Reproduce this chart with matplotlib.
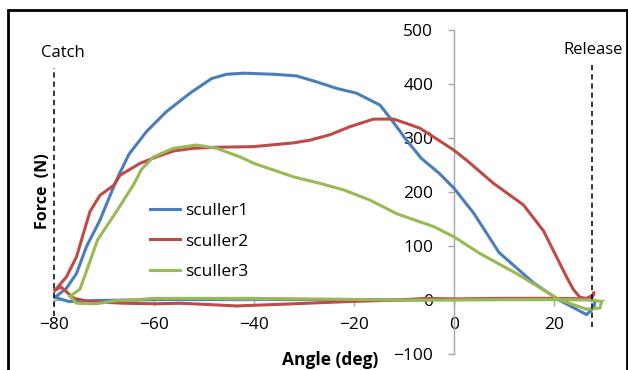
import matplotlib
matplotlib.use('Agg')
import matplotlib.pyplot as plt
from matplotlib.patches import Rectangle

plt.rcParams['font.family'] = ['Open Sans', 'DejaVu Sans']

# 数据：角度 (deg) 与 力 (N)，每条曲线为 划水 + 回桨 的闭合回路
s1_angle = [-79.8, -77.5, -75.5, -73.5, -70.8, -68.5, -67.0, -65.0, -61.5, -57.5, -52.8, -48.5, -45.5,
            -42.0, -36.0, -31.5, -27.5, -23.5, -19.5, -14.8, -12.2, -9.5, -6.5, -3.0, 0.0,
            4.0, 9.0, 16.0, 21.0, 26.5, 28.0, 28.2,
            27.0, 22.0, 15.0, 8.0, 0.0, -10.0, -20.0, -30.0, -40.0, -50.0, -60.0, -64.0,
            -72.0, -77.0, -79.8]
s1_force = [5, 22, 49, 99, 148, 200, 232, 270, 312, 349, 383, 410, 418,
            420, 418, 415, 404, 392, 383, 361, 330, 296, 262, 235, 207,
            160, 88, 31, 0, -27, -14, -2,
            1, 1, 2, 1, 1, 0, 1, 1, 2, 1, 1, 0,
            -1, -3, 5]

s2_angle = [-79.8, -77.5, -75.5, -72.8, -70.8, -68.1, -66.8, -62.8, -59.5, -56.1, -52.1, -46.8,
            -40.1, -32.1, -28.8, -24.8, -20.8, -16.1, -12.1, -9.5, -6.8, -4.1, -0.1, 2.5,
            7.9, 13.9, 17.9, 20.5, 22.5, 23.9, 25.2, 26.5, 27.8, 28.0,
            27.5, 20.0, 10.0, 0.0, -5.5, -11.5, -21.5, -34.8, -43.5, -50.0, -54.8, -59.5,
            -66.0, -72.8, -76.0, -78.6, -79.8]
s2_force = [18, 43, 80, 164, 194, 212, 231, 253, 265, 276, 281, 283,
            284, 291, 296, 306, 321, 335, 335, 327, 318, 302, 278, 259,
            216, 176, 128, 80, 43, 19, 5, 3, 9, 14,
            2, 3, 3, 2, 3, 0, -3, -8, -11, -8, -6, -7,
            -6, -3, 3, 24, 18]

s3_angle = [-76.8, -74.8, -71.3, -67.5, -64.0, -62.5, -60.1, -56.1, -51.5, -47.5, -42.8, -40.0,
            -32.1, -26.8, -22.1, -16.8, -11.5, -4.1, 0.0, 5.2, 12.5, 21.2, 26.5, 29.2,
            29.5, 27.5,
            20.0, 10.0, 0.0, -10.0, -20.0, -30.0, -40.0, -50.0, -60.0, -63.0, -67.5, -71.5,
            -75.5, -76.8]
s3_force = [7, 20, 111, 164, 215, 242, 265, 281, 287, 281, 265, 253,
            228, 216, 204, 185, 160, 136, 117, 86, 49, 0, -17, -15,
            -3, 0,
            1, 1, 0, 0, 1, 2, 3, 3, 3, 1, -1, -7,
            -6, 7]

series_names = ['sculler1', 'sculler2', 'sculler3']
x_ticks = [-80, -60, -40, -20, 0, 20]
y_ticks = [-100, 0, 100, 200, 300, 400, 500]
catch_angle = -80
release_angle = 27.5

W, H = 628, 370
fig = plt.figure(figsize=(W / 100, H / 100), dpi=100)
ax = fig.add_axes([0, 0, 1, 1])
ax.patch.set_visible(False)

# 像素映射：x: 454 + 5*x ; y: 300 - 0.54*y
ax.set_xlim(-454 / 5, (W - 454) / 5)
ax.set_ylim((300 - H) / 0.54, 300 / 0.54)

colors = ['#4A7EBB', '#BE4B48', '#98B954']
for a, f, c, name in zip([s1_angle, s2_angle, s3_angle], [s1_force, s2_force, s3_force], colors, series_names):
    ax.plot(a, f, color=c, lw=2.2, label=name, zorder=3, solid_joinstyle='round')

# Catch / Release 虚线
ax.plot([catch_angle, catch_angle], [-30, 430], color='black', lw=1.1, dashes=(3.5, 2.5), zorder=4)
ax.plot([release_angle, release_angle], [-50, 440], color='black', lw=1.1, dashes=(3.5, 2.5), zorder=4)

# 坐标轴（Excel 风格，交叉于 0）
ax.set_axisbelow(True)
for s in ['top', 'right']:
    ax.spines[s].set_visible(False)
ax.spines['left'].set_position(('data', 0))
ax.spines['left'].set_bounds(-100, 500)
ax.spines['bottom'].set_position(('data', 0))
ax.spines['bottom'].set_bounds(-80, 30)
for s in ['left', 'bottom']:
    ax.spines[s].set_color('#A6A6A6')
    ax.spines[s].set_linewidth(1.0)
    ax.spines[s].set_zorder(1)

ax.set_xticks(x_ticks)
ax.set_yticks(y_ticks)
ax.tick_params(axis='x', direction='out', length=4, width=1, color='#A6A6A6',
               labelsize=12.5, pad=8, labelcolor='black')
ax.tick_params(axis='y', direction='out', length=4, width=1, color='#A6A6A6',
               labelsize=12.5, pad=11, labelcolor='black')

# 文本
fig.text(63 / W, 1 - 53 / H, 'Catch', fontsize=12, ha='center', va='center')
fig.text(563 / W, 1 - 50 / H, 'Release', fontsize=12, ha='left', va='center')
fig.text(330 / W, 1 - 360 / H, 'Angle (deg)', fontsize=12.5, fontweight='bold', ha='center', va='center')
fig.text(43 / W, 1 - 191 / H, 'Force  (N)', fontsize=11.5, fontweight='bold', ha='center', va='center',
         rotation=90)

ax.legend(loc='upper left', bbox_to_anchor=(150 / W, 1 - 203 / H), bbox_transform=fig.transFigure,
          frameon=False, fontsize=12.5, handlelength=1.75, handletextpad=0.3, labelspacing=0.82,
          borderaxespad=0, borderpad=0)

# 外框
fig.add_artist(Rectangle((8 / W, -0.1), (627 - 8) / W, 1.1 - 10 / H, transform=fig.transFigure,
                         fill=False, edgecolor='black', lw=2, zorder=10))

fig.savefig('out.png', dpi=100)
plt.close()
